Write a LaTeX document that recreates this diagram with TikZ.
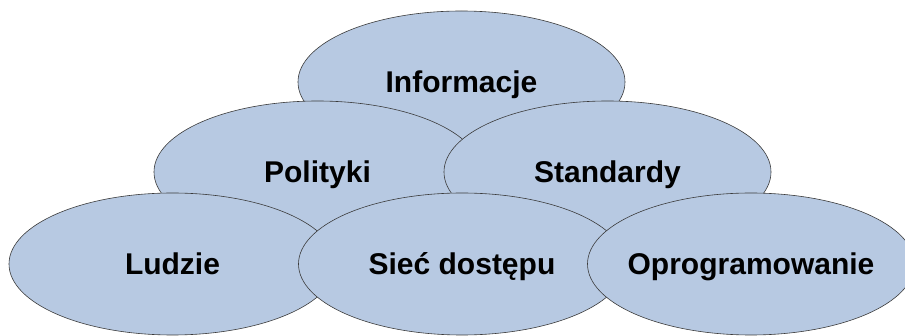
\documentclass[tikz,border=0pt]{standalone}
\usepackage{fontspec}
\setmainfont{Liberation Sans}
\usetikzlibrary{shapes.geometric}
\definecolor{petalfill}{HTML}{B7C9E2}
\definecolor{petalline}{HTML}{3A3A3A}
\begin{document}
\begin{tikzpicture}[x=1pt,y=-1pt,
  petal/.style={ellipse, draw=petalline, line width=0.6pt, fill=petalfill,
    minimum width=327pt, minimum height=142pt, inner sep=0pt},
  petaltext/.style={inner sep=0pt, font=\fontsize{30}{30}\selectfont\bfseries,
    text height=21pt, text depth=0pt}]
  \useasboundingbox (0,0) rectangle (905,336);
  \begin{scope}
    \clip (0,0) rectangle (905,336);
    % top row
    \node[petal] (info) at (461.5,82) {};
    \node[petaltext] at (info.center) {Informacje};
    % middle row
    \node[petal] (pol) at (317.5,172) {};
    \node[petaltext] at (pol.center) {Polityki};
    \node[petal] (std) at (607.5,172) {};
    \node[petaltext] at (std.center) {Standardy};
    % bottom row
    \node[petal] (ludzie) at (172.5,264) {};
    \node[petaltext] at (ludzie.center) {Ludzie};
    \node[petal] (siec) at (462,264) {};
    \node[petaltext] at (siec.center) {Sieć dostępu};
    \node[petal] (oprog) at (751,264) {};
    \node[petaltext] at (oprog.center) {Oprogramowanie};
  \end{scope}
\end{tikzpicture}
\end{document}
